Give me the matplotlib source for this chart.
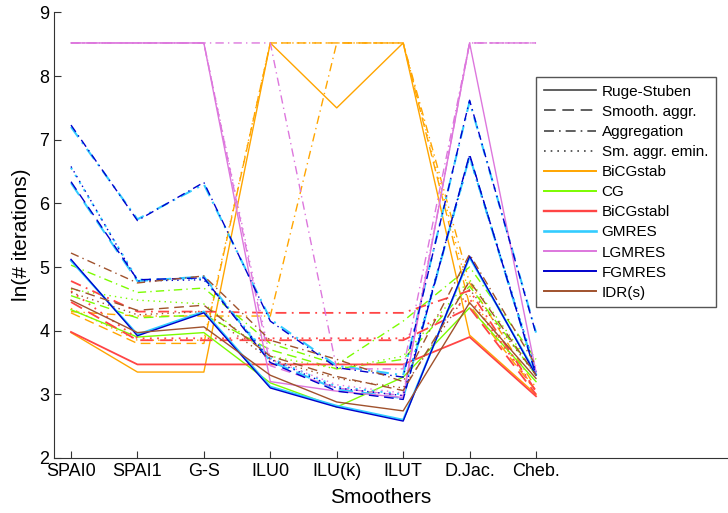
import matplotlib
matplotlib.use('Agg')
import matplotlib.pyplot as plt
from matplotlib.lines import Line2D

plt.rcParams['font.family'] = 'Liberation Sans'

smoothers = ['SPAI0', 'SPAI1', 'G-S', 'ILU0', 'ILU(k)', 'ILUT', 'D.Jac.', 'Cheb.']
amg_types = ['Ruge-Stuben', 'Smooth. aggr.', 'Aggregation', 'Sm. aggr. emin.']
solvers = ['BiCGstab', 'CG', 'BiCGstabl', 'GMRES', 'LGMRES', 'FGMRES', 'IDR(s)']

# ln(# iterations); rows: Ruge-Stuben, Smooth. aggr., Aggregation, Sm. aggr. emin.
bicgstab = [[3.97, 3.35, 3.35, 8.52, 7.50, 8.52, 3.93, 3.00],
            [4.28, 3.80, 3.80, 8.52, 8.52, 8.52, 4.40, 3.05],
            [4.30, 4.23, 4.23, 4.23, 8.52, 8.52, 4.75, 3.10],
            [4.35, 3.85, 3.85, 8.52, 8.52, 8.52, 4.55, 3.05]]
cg = [[4.33, 3.90, 3.97, 3.18, 2.80, 3.27, 4.36, 3.20],
      [4.55, 4.20, 4.25, 3.70, 3.40, 3.55, 4.70, 3.30],
      [5.03, 4.60, 4.67, 3.80, 3.47, 4.15, 5.00, 3.55],
      [4.65, 4.48, 4.42, 3.60, 3.40, 3.60, 4.80, 3.35]]
bicgstabl = [[3.98, 3.47, 3.47, 3.47, 3.47, 3.47, 3.90, 2.97],
             [4.45, 3.85, 3.85, 3.85, 3.85, 3.85, 4.36, 3.00],
             [4.78, 4.30, 4.30, 4.28, 4.28, 4.28, 4.63, 3.05],
             [4.62, 3.88, 3.88, 3.88, 3.88, 3.88, 4.50, 3.05]]
gmres = [[5.10, 3.94, 4.30, 3.12, 2.82, 2.60, 5.15, 3.32],
         [6.32, 4.78, 4.85, 3.52, 3.08, 2.94, 6.74, 3.32],
         [7.20, 5.75, 6.30, 4.18, 3.45, 3.30, 7.60, 3.97],
         [6.56, 4.80, 4.82, 3.57, 3.12, 3.00, 6.72, 3.37]]
lgmres = [[8.52, 8.52, 8.52, 3.20, 3.05, 2.95, 8.52, 3.35],
          [8.52, 8.52, 8.52, 3.45, 3.10, 2.98, 8.52, 8.52],
          [8.52, 8.52, 8.52, 8.52, 3.40, 3.40, 8.52, 8.52],
          [8.52, 8.52, 8.52, 3.55, 3.15, 3.02, 8.52, 8.52]]
fgmres = [[5.12, 3.92, 4.28, 3.10, 2.80, 2.58, 5.17, 3.30],
          [6.34, 4.80, 4.83, 3.50, 3.05, 2.92, 6.77, 3.30],
          [7.23, 5.73, 6.33, 4.15, 3.42, 3.27, 7.62, 3.95],
          [6.58, 4.78, 4.80, 3.55, 3.10, 2.98, 6.75, 3.35]]
idr = [[4.48, 3.97, 4.06, 3.30, 2.88, 2.74, 4.44, 3.25],
       [4.67, 4.32, 4.40, 3.60, 3.28, 3.06, 4.78, 3.30],
       [5.22, 4.75, 4.86, 3.85, 3.55, 3.20, 5.20, 3.45],
       [4.60, 4.25, 4.30, 3.55, 3.25, 3.10, 4.65, 3.30]]

solver_data = [bicgstab, cg, bicgstabl, gmres, lgmres, fgmres, idr]
colors = ['#ffa500', '#7cfc00', '#ff4545', '#33ccff', '#dd77dd', '#0000cc', '#a0522d']
widths = [1.0, 1.0, 1.3, 1.5, 1.0, 1.0, 1.0]
styles = ['-', (0, (7, 4)), (0, (6, 3, 1, 3)), (0, (1, 3))]

fig = plt.figure(figsize=(7.28, 5.13), dpi=100)
ax = fig.add_axes([54 / 728, 55 / 513, 1 - 54 / 728, (458 - 12.4) / 513])

x = list(range(1, len(smoothers) + 1))
for data, c, w in zip(solver_data, colors, widths):
    for row, ls in zip(data, styles):
        ax.plot(x, row, color=c, lw=w, linestyle=ls)

ax.set_xlim(0.744, 10.89)
ax.set_ylim(2, 9)
ax.set_xticks(x)
ax.set_xticklabels(smoothers)
ax.set_yticks(range(2, 10))
ax.tick_params(direction='in', labelsize=13, length=5, color='#333333')
ax.spines['top'].set_visible(False)
ax.spines['right'].set_visible(False)
for s in ['left', 'bottom']:
    ax.spines[s].set_color('#333333')
ax.set_xlabel('Smoothers', fontsize=15, labelpad=6, x=(381 - 54) / 674)
ax.set_ylabel('ln(# iterations)', fontsize=15, labelpad=6)

handles = [Line2D([], [], color='#444444', lw=1.2, linestyle=ls) for ls in styles]
handles += [Line2D([], [], color=c, lw=w + 0.4) for c, w in zip(colors, widths)]
ax.legend(handles, amg_types + solvers, loc='upper left',
          bbox_to_anchor=(536 / 728, 1 - 77 / 513), bbox_transform=fig.transFigure,
          fontsize=11, frameon=True, fancybox=False, edgecolor='#555555',
          framealpha=1, borderaxespad=0, handlelength=3.4, handletextpad=0.4,
          labelspacing=0.4, borderpad=0.5)

fig.savefig('out.png', dpi=100)
